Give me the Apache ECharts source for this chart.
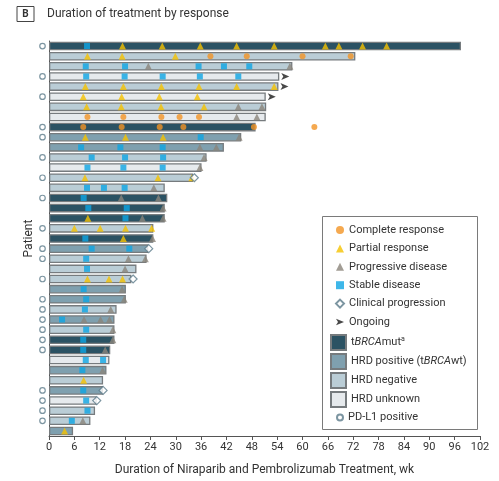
<!DOCTYPE html>
<html>
<head>
<meta charset="utf-8">
<script src="https://cdn.jsdelivr.net/npm/echarts@6/dist/echarts.min.js"></script>
<style>
  html, body { margin: 0; padding: 0; background: #fff; }
  #chart { width: 499px; height: 481px; }
</style>
</head>
<body>
<div id="chart"></div>
<script>
// Swimmer plot: treatment duration per patient with response assessments.

// Patients, top to bottom
const patients = ['1','2','3','4','5','6','7','8','9','10','11','12','13','14','15','16','17','18','19','20',
  '21','22','23','24','25','26','27','28','29','30','31','32','33','34','35','36','37','38','39'];

// Treatment duration, weeks
const weeks = [97.5, 72.5, 57.6, 54.5, 54.3, 51.3, 51.4, 51.3, 48.9, 45.5,
  41.4, 37.3, 36.1, 34.1, 27.4, 28.0, 27.4, 27.4, 24.7, 24.7,
  23.5, 23.1, 20.7, 19.5, 18.2, 18.2, 16.0, 15.5, 15.5, 15.5,
  14.5, 14.3, 13.6, 12.8, 12.8, 11.3, 10.9, 9.8, 5.7];

// Biomarker group per patient: mut = tBRCAmut, pos = HRD positive, neg = HRD negative, unk = HRD unknown
const group = ['mut','neg','neg','unk','neg','unk','neg','unk','mut','pos',
  'pos','neg','unk','neg','neg','mut','mut','mut','neg','mut',
  'pos','neg','neg','neg','pos','pos','neg','pos','neg','mut',
  'mut','unk','pos','neg','pos','unk','neg','neg','pos'];

// PD-L1 positive patients
const pdl1Positive = ['1','4','6','9','10','12','14','16','19','21','22','24','26','27','28','29','30','31','35','36','37','38'];

// Assessments: [patient, week]
const completeResponse = [
  ['2',38.2],['2',46.8],['2',60.0],['2',71.4],
  ['8',9.1],['8',17.6],['8',26.6],['8',30.9],['8',35.5],
  ['9',8.1],['9',17.2],['9',26.2],['9',31.8],['9',48.5],['9',62.8]
];
const partialResponse = [
  ['1',17.4],['1',26.8],['1',35.8],['1',44.4],['1',53.3],['1',65.4],['1',68.6],['1',74.2],['1',79.9],
  ['2',9.1],['2',17.3],['2',29.9],
  ['5',8.6],['5',17.6],['5',26.6],['5',35.5],['5',44.4],['5',53.3],
  ['6',8.1],['6',17.2],['6',26.1],['6',35.1],
  ['7',8.9],['7',17.1],['7',26.5],['7',36.7],
  ['10',8.6],['10',18.1],['10',27.0],
  ['14',8.5],['14',25.8],['14',33.8],
  ['18',9.2],
  ['19',6.0],['19',12.1],['19',18.1],['19',24.3],
  ['20',17.6],
  ['24',9.1],['24',14.2],['24',17.4],
  ['34',8.2],
  ['39',3.7]
];
const progressiveDisease = [
  ['3',23.5],['3',57.0],
  ['7',44.8],['7',50.4],
  ['8',44.4],['8',49.2],
  ['10',45.0],
  ['11',35.7],['11',39.6],
  ['12',36.7],['13',35.7],['15',24.8],
  ['16',17.1],['16',25.9],
  ['17',27.0],
  ['18',22.1],['18',27.0],
  ['20',24.5],
  ['22',18.8],['22',22.8],
  ['23',18.0],['25',17.3],['26',17.8],['27',14.6],
  ['28',8.3],['28',12.2],['28',14.3],
  ['29',15.1],['30',15.1],['31',13.3],['33',12.7],['38',8.0]
];
const stableDisease = [
  ['1',9.0],
  ['3',8.7],['3',18.0],['3',35.4],['3',41.4],['3',47.4],
  ['4',8.8],['4',17.9],['4',26.9],['4',35.7],['4',44.8],
  ['10',35.9],
  ['11',7.6],['11',16.9],['11',26.9],
  ['12',10.1],['12',18.0],['12',27.0],
  ['13',9.1],['13',17.6],['13',26.9],
  ['15',9.0],['15',13.0],['15',17.9],
  ['16',8.2],
  ['17',9.3],['17',18.4],
  ['18',18.1],
  ['20',8.6],
  ['21',10.1],['21',19.0],
  ['22',8.8],['23',9.0],['25',8.2],['26',8.8],['27',8.5],['28',3.1],
  ['29',8.8],['30',8.1],['31',8.1],
  ['32',8.7],['32',12.8],
  ['33',7.9],['35',8.1],['36',8.8],['37',9.1],['38',5.4]
];
const clinicalProgression = [['14',34.4],['21',23.6],['24',19.9],['35',12.8],['36',11.3]];
const ongoing = [['4',54.5],['5',54.3],['6',51.3]];

const groupNames = {
  mut: 'tBRCAmut',
  pos: 'HRD positive (tBRCAwt)',
  neg: 'HRD negative',
  unk: 'HRD unknown'
};
const groupColors = { mut: '#2b5263', pos: '#7fa0af', neg: '#bacdd6', unk: '#e6eaed' };

const FONT = 'Roboto, "Noto Sans", sans-serif';
const TEXT = '#333';

const toPoint = d => [d[1], d[0]];

const barSeries = Object.keys(groupNames).map(code => ({
  type: 'bar',
  name: groupNames[code],
  data: weeks.map((w, i) => group[i] === code ? w : '-'),
  barWidth: 8.6,
  barGap: '-100%',
  itemStyle: { color: groupColors[code], borderColor: '#767b7e', borderWidth: 1.3 },
  emphasis: { disabled: true },
  z: 2
}));

function markerSeries(name, data, symbol, size, style, extra) {
  return Object.assign({
    type: 'scatter',
    name: name,
    data: data.map(toPoint),
    symbol: symbol,
    symbolSize: size,
    itemStyle: style,
    emphasis: { disabled: true },
    z: 4
  }, extra || {});
}

const ARROW = 'path://M0,0 L10,4 L0,8 L2.5,4 Z';

const legendLabels = {
  'tBRCAmut': 't{i|BRCA}mut{sup|a}',
  'HRD positive (tBRCAwt)': 'HRD positive (t{i|BRCA}wt)'
};
const legendText = {
  fontFamily: FONT, fontSize: 11, lineHeight: 13, color: TEXT,
  rich: {
    i: { fontFamily: FONT, fontSize: 11, lineHeight: 13, color: TEXT, fontStyle: 'italic' },
    sup: { fontFamily: FONT, fontSize: 7, lineHeight: 8, color: TEXT, verticalAlign: 'top' }
  }
};

const option = {
  animation: false,
  backgroundColor: '#fff',
  title: {
    left: 17, top: 8, padding: 0,
    text: '{b|B}{t|Duration of treatment by response}',
    textStyle: {
      rich: {
        b: { fontFamily: FONT, fontSize: 10, lineHeight: 10, fontWeight: 'bold', color: TEXT,
             borderColor: '#444', borderWidth: 1, padding: [3, 4, 2, 4], width: 9, align: 'center' },
        t: { fontFamily: FONT, fontSize: 12, fontWeight: 'normal', color: TEXT, padding: [0, 0, 0, 13] }
      }
    }
  },
  graphic: [{
    type: 'rect',
    shape: { x: 322.5, y: 216.5, width: 155, height: 213 },
    style: { fill: '#fff', stroke: '#7a7a7a', lineWidth: 1 },
    z: 5
  }],
  legend: [
    {
      data: ['Complete response', 'Partial response', 'Progressive disease', 'Stable disease', 'Clinical progression', 'Ongoing'],
      orient: 'vertical', left: 335, top: 223.5, padding: 0,
      itemWidth: 8, itemHeight: 8, itemGap: 5.4,
      selectedMode: false, textStyle: legendText, z: 6
    },
    {
      data: ['tBRCAmut', 'HRD positive (tBRCAwt)', 'HRD negative', 'HRD unknown'],
      orient: 'vertical', left: 330, top: 334, padding: 0,
      itemWidth: 15, itemHeight: 15, itemGap: 2, icon: 'rect',
      selectedMode: false, textStyle: legendText, z: 6,
      formatter: name => legendLabels[name] || name
    },
    {
      data: ['PD-L1 positive'],
      orient: 'vertical', left: 336, top: 411, padding: 0,
      itemWidth: 6, itemHeight: 6,
      selectedMode: false, textStyle: legendText, z: 6
    }
  ],
  grid: { left: 49, right: 19, top: 41, bottom: 44, containLabel: false },
  xAxis: {
    type: 'value', min: 0, max: 102, interval: 6,
    name: 'Duration of Niraparib and Pembrolizumab Treatment, wk',
    nameLocation: 'middle', nameGap: 28,
    nameTextStyle: { fontFamily: FONT, fontSize: 12, color: TEXT },
    axisLine: { show: true, lineStyle: { color: '#555', width: 1 } },
    axisTick: { show: true, length: 4, lineStyle: { color: '#555' } },
    axisLabel: { fontFamily: FONT, fontSize: 11, color: TEXT, margin: 6 },
    splitLine: { show: false }
  },
  yAxis: {
    type: 'category', data: patients, inverse: true,
    name: 'Patient', nameLocation: 'middle', nameGap: 14,
    nameTextStyle: { fontFamily: FONT, fontSize: 12, color: TEXT },
    axisLine: { show: true, lineStyle: { color: '#555', width: 1 } },
    axisTick: { show: false },
    axisLabel: { show: false }
  },
  series: barSeries.concat([
    markerSeries('Complete response', completeResponse, 'circle', 6, { color: '#f39324' }),
    markerSeries('Partial response', partialResponse, 'triangle', 7, { color: '#f5c200' }),
    markerSeries('Progressive disease', progressiveDisease, 'triangle', 7, { color: '#8b857a' }),
    markerSeries('Stable disease', stableDisease, 'rect', 6, { color: '#0ea5e4' }),
    markerSeries('Clinical progression', clinicalProgression, 'diamond', 8,
      { color: '#fff', borderColor: '#5b7b8a', borderWidth: 1.2 }),
    markerSeries('Ongoing', ongoing, ARROW, [8, 7], { color: '#1a1a1a' },
      { symbolOffset: [6, 0], clip: false }),
    markerSeries('PD-L1 positive', pdl1Positive.map(p => [p, 0]), 'circle', 5.5,
      { color: '#fff', borderColor: '#5b7b8a', borderWidth: 1.2 },
      { symbolOffset: [-6.5, 0], clip: false })
  ])
};

const chart = echarts.init(document.getElementById('chart'), null, { renderer: 'canvas' });
chart.setOption(option);
</script>
</body>
</html>
